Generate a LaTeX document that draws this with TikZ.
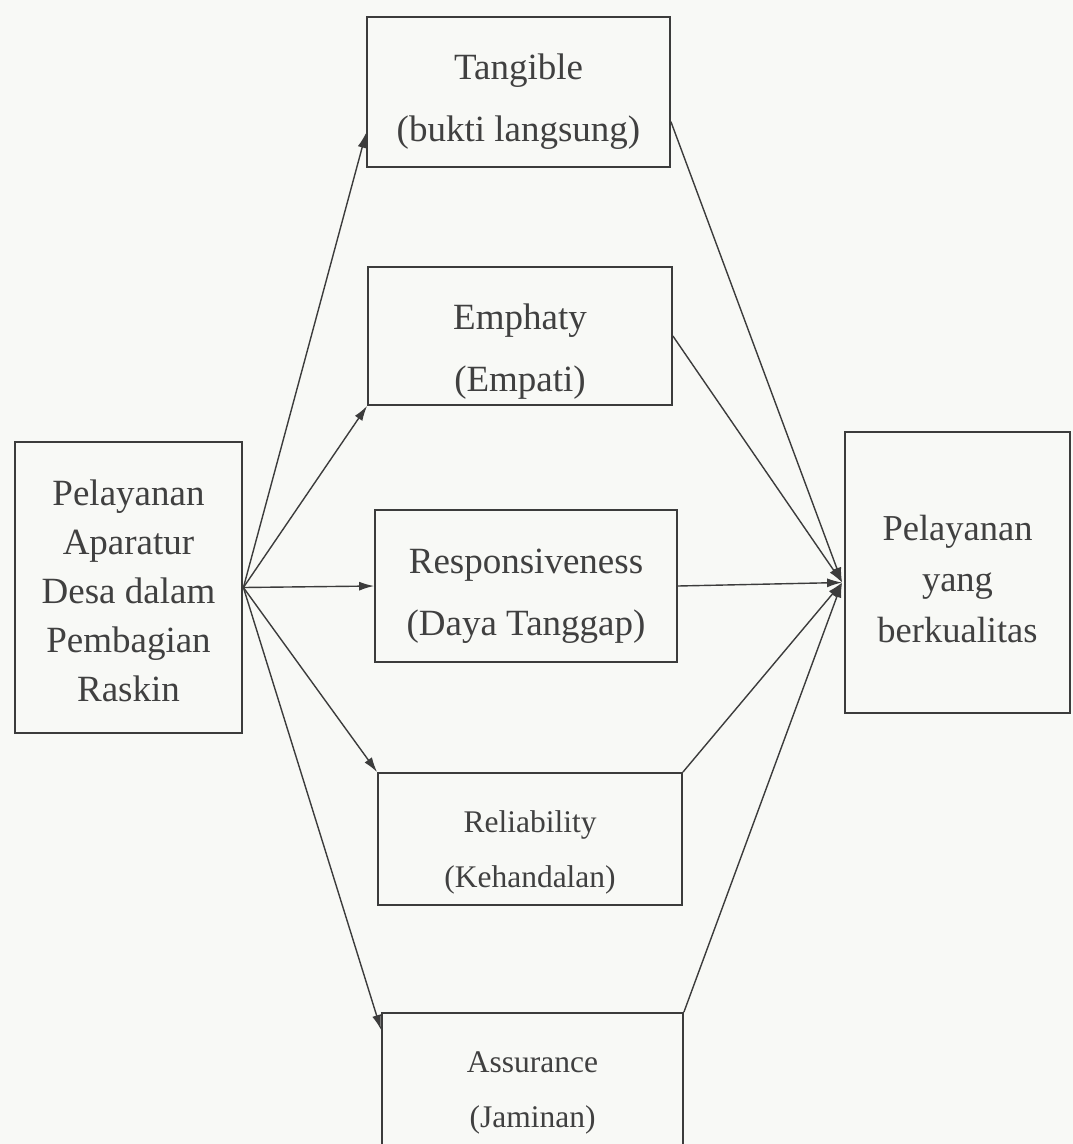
\documentclass[tikz,border=0pt]{standalone}
\usepackage{fontspec}
\setmainfont{Liberation Serif}
\usetikzlibrary{arrows.meta}
\definecolor{paper}{RGB}{248,249,246}
\definecolor{ink}{RGB}{60,60,60}
\definecolor{textgray}{RGB}{64,64,64}

\begin{document}
\begin{tikzpicture}[
        x=1pt, y=-1pt,
        >={Latex[length=15pt, width=9pt]},
        every node/.style={text=textgray},
        box/.style={draw=ink, rectangle, line width=1.8pt, align=center, inner sep=0pt},
        tall/.style={font=\fontsize{37}{49}\selectfont},
        big/.style={font=\fontsize{37}{62}\selectfont},
        small/.style={font=\fontsize{31.5}{55}\selectfont},
        mid/.style={font=\fontsize{36.5}{51}\selectfont},
        turun/.style={text height=#1},
        link/.style={draw=ink, line width=1.4pt}
    ]
        % Latar
        \fill [paper] (0,0) rectangle (1073,1144);
        \useasboundingbox (0,0) rectangle (1073,1144);

        % Nodi
        \node [box, tall, turun=229pt, line width=2.8pt, minimum width=227pt, minimum height=291pt] (layanan) at (128.5,587.5) {Pelayanan\\Aparatur\\Desa dalam\\Pembagian\\Raskin};

        \node [box, big, turun=107pt, minimum width=303pt, minimum height=150pt] (tangible) at (518.5,92) {Tangible\\(bukti langsung)};
        \node [box, big, turun=119pt, minimum width=304pt, minimum height=138pt] (empati) at (520,336) {Emphaty\\(Empati)};
        \node [box, big, turun=107pt, minimum width=302pt, minimum height=152pt] (tanggap) at (526,586) {Responsiveness\\(Daya Tanggap)};
        \node [box, small, turun=104pt, minimum width=304pt, minimum height=132pt] (andal) at (530,839) {Reliability\\(Kehandalan)};
        \node [box, small, turun=86pt, minimum width=301pt, minimum height=150pt] (jaminan) at (532.5,1088) {Assurance\\(Jaminan)};

        \node [box, mid, turun=141pt, minimum width=225pt, minimum height=281pt] (kualitas) at (957.5,572.5) {Pelayanan\\yang\\berkualitas};
        \coordinate (temu) at ([xshift=-2pt, yshift=-10pt]kualitas.west);

        % Connessioni
        \draw [link, ->] (layanan.east) -- (tangible.195);
        \draw [link, ->] (layanan.east) -- (empati.south west);
        \draw [link, ->] (layanan.east) -- (tanggap.west);
        \draw [link, ->] (layanan.east) -- (andal.north west);
        \draw [link, ->] (layanan.east) -- (jaminan.159);

        \draw [link, ->] (tangible.-11) -- (temu);
        \draw [link, ->] (empati.east) -- (temu);
        \draw [link, ->] (tanggap.east) -- (temu);
        \draw [link, ->] (andal.north east) -- (temu);
        \draw [link, ->] (jaminan.north east) -- (temu);
\end{tikzpicture}
\end{document}
